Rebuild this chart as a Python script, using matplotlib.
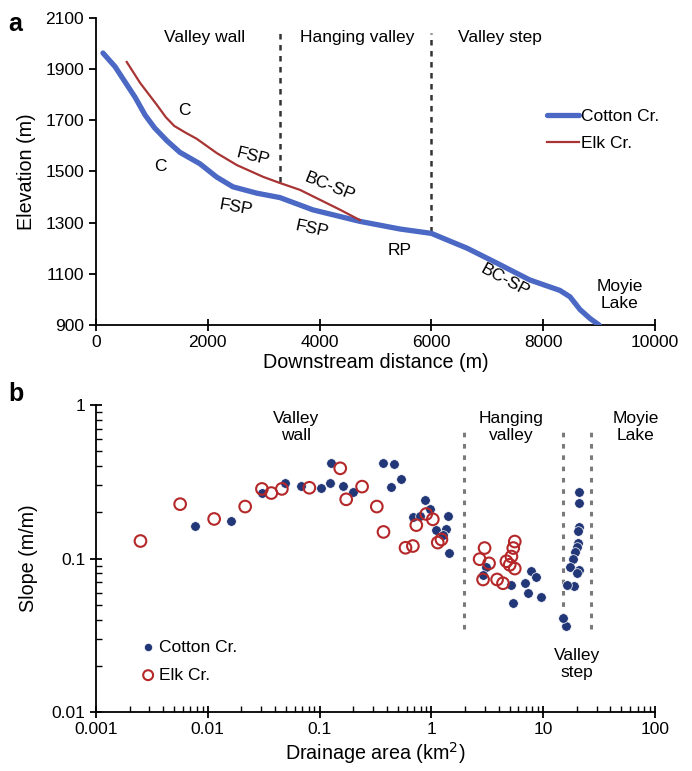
import matplotlib
matplotlib.use("Agg")
import matplotlib.pyplot as plt

plt.rcParams['font.family'] = ['Liberation Sans', 'DejaVu Sans']

# ---------------- Panel a data ----------------
cotton_dist = [125, 340, 520, 700, 880, 1050, 1270, 1500, 1860, 2160, 2450, 2880,
               3290, 3880, 4720, 5440, 6000, 6330, 6640, 7170, 7760, 8300, 8480,
               8660, 8840, 9000]
cotton_elev = [1963, 1910, 1850, 1790, 1720, 1670, 1620, 1575, 1530, 1478, 1440, 1415,
               1398, 1350, 1305, 1275, 1258, 1228, 1200, 1142, 1076, 1035, 1010,
               960, 925, 900]
elk_dist = [550, 790, 1090, 1250, 1400, 1600, 1800, 2160, 2520, 2990, 3290, 3650,
            4010, 4370, 4720]
elk_elev = [1928, 1846, 1760, 1712, 1678, 1652, 1628, 1572, 1525, 1479, 1455, 1428,
            1389, 1350, 1310]

# ---------------- Panel b data ----------------
cotton_area = [0.0077, 0.0162, 0.0305, 0.049, 0.068, 0.103, 0.124, 0.127, 0.161, 0.201,
               0.368, 0.462, 0.431, 0.53, 0.683, 0.784, 0.869, 0.963, 1.107, 1.41,
               1.36, 1.26, 1.44,
               3.10, 2.9, 5.2, 5.37, 6.84, 7.85, 8.7, 7.33, 9.66,
               21.0, 21.0, 21.0, 20.5, 20.5, 19.9, 19.2, 18.5, 17.3, 21.0, 19.9, 18.8,
               16.2, 16.0, 15.1]
cotton_slope = [0.163, 0.175, 0.268, 0.312, 0.298, 0.287, 0.309, 0.421, 0.298, 0.272,
                0.421, 0.413, 0.294, 0.328, 0.187, 0.189, 0.240, 0.209, 0.153, 0.189,
                0.155, 0.142, 0.109,
                0.0885, 0.078, 0.067, 0.0515, 0.0696, 0.083, 0.076, 0.060, 0.0564,
                0.27, 0.229, 0.161, 0.15, 0.127, 0.119, 0.111, 0.100, 0.0885, 0.084,
                0.080, 0.066, 0.067, 0.0363, 0.041]
elk_area = [0.0025, 0.00566, 0.0114, 0.0216, 0.0305, 0.037, 0.046, 0.081, 0.153, 0.173,
            0.240, 0.325, 0.373, 0.587, 0.683, 0.733, 0.90, 1.03, 1.23, 1.14,
            2.99, 2.70, 3.28, 2.90, 3.87, 4.37, 5.57, 5.4, 5.2, 4.69, 5.57, 5.02]
elk_slope = [0.13, 0.226, 0.181, 0.218, 0.284, 0.267, 0.284, 0.289, 0.387, 0.243,
             0.294, 0.218, 0.149, 0.1175, 0.1206, 0.165, 0.195, 0.180, 0.133, 0.127,
             0.117, 0.099, 0.093, 0.073, 0.073, 0.069, 0.129, 0.117, 0.103, 0.096,
             0.086, 0.091]

blue = '#4a68c4'
red = '#a83434'
navy = '#223777'
ered = '#b5282a'

TF = 12.5   # tick / annotation font size
LF = 14.2   # axis label font size

fig = plt.figure(figsize=(6.92, 7.71), dpi=100)

# ================= Panel a =================
ax1 = fig.add_axes([0.1387, 0.5785, 0.8078, 0.3982])
ax1.plot(cotton_dist, cotton_elev, color=blue, lw=3.8, solid_capstyle='round',
         solid_joinstyle='round', label='Cotton Cr.', zorder=3)
ax1.plot(elk_dist, elk_elev, color=red, lw=1.6, solid_joinstyle='round',
         label='Elk Cr.', zorder=4)
ax1.set_xlim(0, 10000)
ax1.set_ylim(900, 2100)
ax1.set_xticks(range(0, 10001, 2000))
ax1.set_yticks(range(900, 2101, 200))
for s in ['top', 'right']:
    ax1.spines[s].set_visible(False)
for s in ['left', 'bottom']:
    ax1.spines[s].set_linewidth(1.3)
ax1.tick_params(axis='both', labelsize=TF, width=1.3, length=5)
ax1.tick_params(axis='x', direction='inout', length=8)
ax1.set_xlabel('Downstream distance (m)', fontsize=LF, labelpad=2)
ax1.set_ylabel('Elevation (m)', fontsize=LF, labelpad=7)

ax1.plot([3300, 3300], [1458, 2040], ls=(0, (2.2, 2.2)), color='#333333', lw=1.8)
ax1.plot([6000, 6000], [1265, 2040], ls=(0, (2.2, 2.2)), color='#333333', lw=1.8)
ax1.text(1950, 2022, 'Valley wall', ha='center', va='center', fontsize=TF)
ax1.text(4670, 2022, 'Hanging valley', ha='center', va='center', fontsize=TF)
ax1.text(7230, 2022, 'Valley step', ha='center', va='center', fontsize=TF)

ax1.text(1590, 1740, 'C', ha='center', va='center', fontsize=TF)
ax1.text(1145, 1518, 'C', ha='center', va='center', fontsize=TF)
ax1.text(2810, 1557, 'FSP', ha='center', va='center', fontsize=TF, rotation=-14)
ax1.text(2500, 1361, 'FSP', ha='center', va='center', fontsize=TF, rotation=-10)
ax1.text(4190, 1440, 'BC-SP', ha='center', va='center', fontsize=TF, rotation=-22)
ax1.text(3860, 1275, 'FSP', ha='center', va='center', fontsize=TF, rotation=-12)
ax1.text(5440, 1193, 'RP', ha='center', va='center', fontsize=TF)
ax1.text(7320, 1076, 'BC-SP', ha='center', va='center', fontsize=TF, rotation=-28)
ax1.text(9370, 1017, 'Moyie\nLake', ha='center', va='center', fontsize=TF,
         linespacing=1.15)

ax1.legend(loc='upper left', bbox_to_anchor=(0.794, 0.725), frameon=False,
           fontsize=TF, handlelength=1.85, handletextpad=0.15,
           labelspacing=0.65, borderaxespad=0)

# ================= Panel b =================
ax2 = fig.add_axes([0.1387, 0.0765, 0.8078, 0.3982])
ax2.set_xscale('log')
ax2.set_yscale('log')
ax2.scatter(cotton_area, cotton_slope, s=48, color=navy, edgecolors='white',
            linewidths=0.5, zorder=3, label='Cotton Cr.')
ax2.scatter(elk_area, elk_slope, s=70, facecolors='none', edgecolors=ered,
            linewidths=1.5, zorder=4, label='Elk Cr.')
ax2.set_xlim(0.001, 100)
ax2.set_ylim(0.01, 1)
ax2.set_xticks([0.001, 0.01, 0.1, 1, 10, 100])
ax2.set_xticklabels(['0.001', '0.01', '0.1', '1', '10', '100'])
ax2.set_yticks([0.01, 0.1, 1])
ax2.set_yticklabels(['0.01', '0.1', '1'])
for s in ['top', 'right']:
    ax2.spines[s].set_visible(False)
for s in ['left', 'bottom']:
    ax2.spines[s].set_linewidth(1.3)
ax2.tick_params(axis='both', which='major', labelsize=TF, width=1.3, length=8,
                direction='inout')
ax2.tick_params(axis='both', which='minor', width=1.0, length=4, direction='in')
ax2.set_xlabel('Drainage area (km$^2$)', fontsize=LF, labelpad=2)
ax2.set_ylabel('Slope (m/m)', fontsize=LF, labelpad=10)

for xv in [1.95, 15.0, 26.7]:
    ax2.plot([xv, xv], [0.035, 0.67], ls=(0, (1.5, 2.2)), color='#7a7a7a', lw=2.2,
             zorder=2)

ax2.text(0.062, 0.72, 'Valley\nwall', ha='center', va='center', fontsize=TF,
         linespacing=1.15)
ax2.text(5.2, 0.72, 'Hanging\nvalley', ha='center', va='center', fontsize=TF,
         linespacing=1.15)
ax2.text(67, 0.72, 'Moyie\nLake', ha='center', va='center', fontsize=TF,
         linespacing=1.15)
ax2.text(20, 0.0205, 'Valley\nstep', ha='center', va='center', fontsize=TF,
         linespacing=1.15)

ax2.legend(loc='center left', bbox_to_anchor=(0.07, 0.166), frameon=False,
           fontsize=TF, handlelength=0.7, handletextpad=0.3, labelspacing=0.75,
           borderaxespad=0, scatterpoints=1, markerscale=0.85)

fig.text(0.012, 0.985, 'a', fontsize=18, fontweight='bold', va='top', ha='left')
fig.text(0.012, 0.505, 'b', fontsize=18, fontweight='bold', va='top', ha='left')

fig.savefig('out.png', dpi=100)
